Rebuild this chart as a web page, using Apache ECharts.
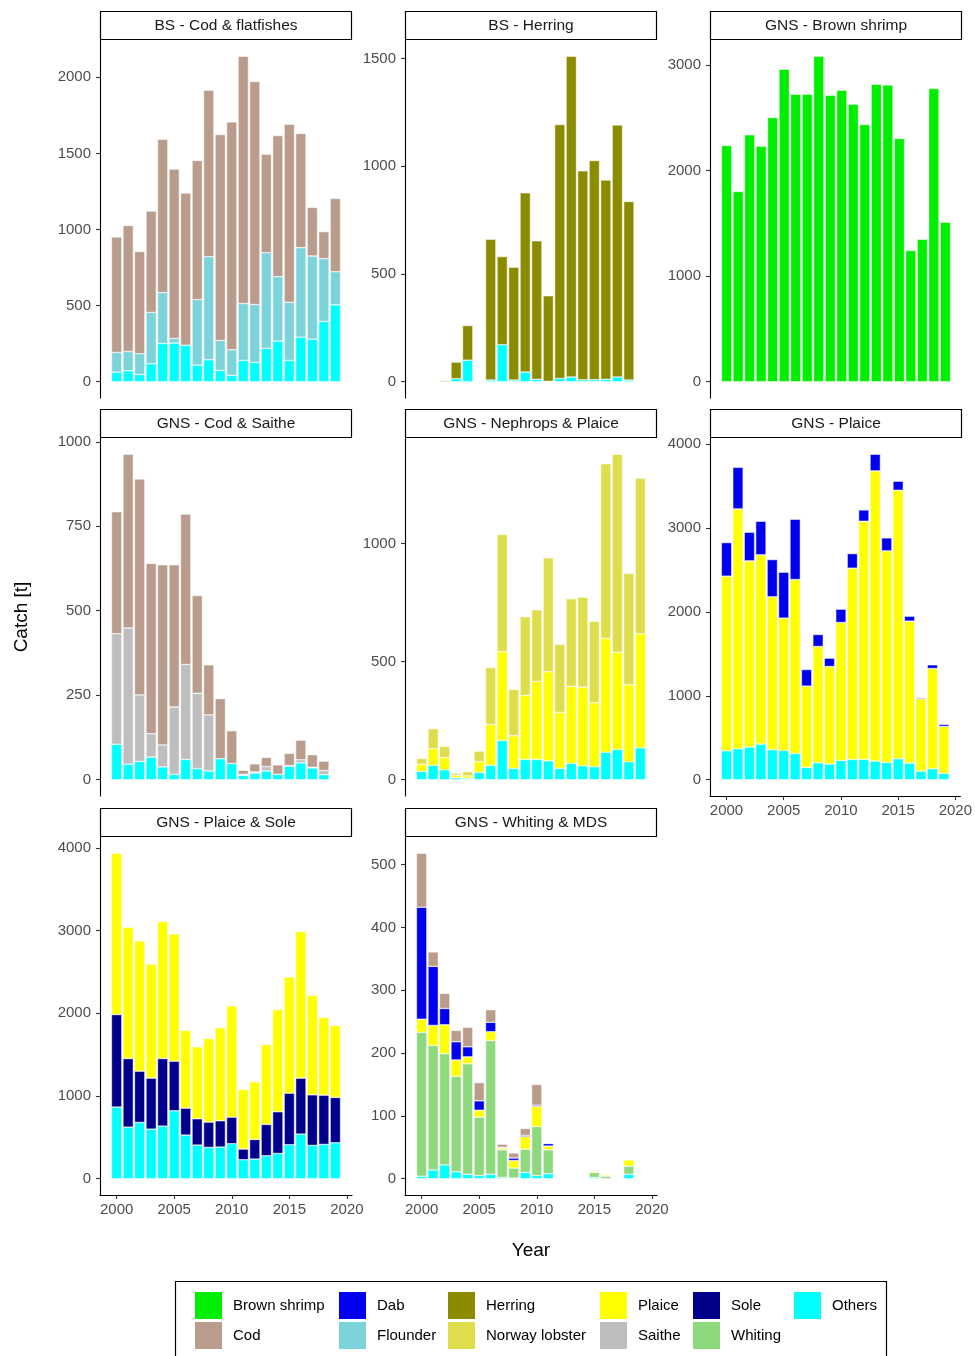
<!DOCTYPE html>
<html>
<head>
<meta charset="utf-8">
<script src="https://cdn.jsdelivr.net/npm/echarts@6/dist/echarts.min.js"></script>
<style>
  html, body { margin: 0; padding: 0; background: #ffffff; }
  #chart { width: 975px; height: 1356px; }
</style>
</head>
<body>
<div id="chart"></div>
<script>
// Catch per year and species group, in tonnes.
const years = [2000, 2001, 2002, 2003, 2004, 2005, 2006, 2007, 2008, 2009,
               2010, 2011, 2012, 2013, 2014, 2015, 2016, 2017, 2018, 2019];

// BS - Cod & flatfishes
const bsCodOthers   = [63, 72, 48, 118, 251, 254, 240, 109, 144, 74, 42, 140, 127, 219, 267, 140, 293, 280, 396, 505];
const bsCodFlounder = [129, 127, 136, 337, 335, 30, 0, 431, 678, 197, 168, 374, 380, 629, 424, 382, 588, 546, 413, 218];
const bsCodCod      = [759, 828, 671, 666, 1007, 1113, 999, 914, 1093, 1353, 1497, 1624, 1465, 647, 926, 1170, 750, 319, 177, 481];

// BS - Herring
const bsHerOthers  = [null, null, null, 14, 100, null, 8, 172, 8, 45, 11, 2, 15, 22, 9, 9, 11, 22, 8, null];
const bsHerHerring = [null, null, 5, 77, 161, null, 654, 409, 524, 832, 643, 397, 1179, 1489, 970, 1018, 925, 1170, 829, null];

// GNS - Brown shrimp
const gnsShrimp = [2239, 1803, 2340, 2232, 2504, 2962, 2725, 2725, 3085, 2716, 2763, 2630, 2438, 2820, 2813, 2305, 1244, 1351, 2779, 1512];

// GNS - Cod & Saithe
const gnsCsOthers = [105, 46, 54, 67, 38, 16, 60, 33, 26, 62, 48, 13, 20, 26, 16, 40, 50, 35, 15, 2];
const gnsCsSaithe = [327, 403, 197, 69, 65, 199, 281, 223, 166, 0, 0, 3, 3, 13, 0, 2, 9, 2, 12, 0];
const gnsCsCod    = [361, 514, 639, 504, 533, 421, 445, 289, 148, 178, 97, 12, 24, 27, 28, 36, 58, 37, 28, 2];

// GNS - Nephrops & Plaice
const gnsNpOthers  = [35, 61, 42, 8, 6, 31, 61, 166, 48, 86, 86, 80, 48, 69, 59, 55, 116, 128, 76, 135];
const gnsNpPlaice  = [30, 70, 52, 10, 10, 45, 173, 376, 138, 271, 330, 377, 237, 326, 333, 271, 482, 411, 326, 483];
const gnsNpLobster = [25, 85, 47, 9, 18, 45, 241, 496, 196, 333, 303, 482, 288, 371, 380, 344, 739, 838, 471, 658];

// GNS - Plaice
const gnsPlOthers = [345, 369, 389, 425, 357, 349, 313, 147, 202, 187, 230, 242, 242, 222, 206, 250, 198, 103, 131, 75];
const gnsPlPlaice = [2080, 2857, 2218, 2254, 1822, 1576, 2072, 968, 1385, 1162, 1643, 2278, 2837, 3457, 2520, 3198, 1691, 861, 1194, 560];
const gnsPlDab    = [400, 496, 341, 400, 444, 547, 718, 198, 143, 99, 159, 174, 135, 198, 155, 108, 59, 12, 44, 24];

// GNS - Plaice & Sole
const gnsPsOthers = [866, 624, 681, 600, 636, 822, 528, 407, 379, 383, 423, 230, 238, 278, 306, 411, 540, 403, 415, 435];
const gnsPsSole   = [1120, 830, 620, 617, 818, 600, 326, 318, 306, 318, 322, 129, 237, 379, 504, 624, 677, 612, 596, 548];
const gnsPsPlaice = [1950, 1587, 1575, 1381, 1656, 1539, 939, 870, 1011, 1124, 1346, 721, 697, 966, 1236, 1406, 1772, 1205, 939, 870];

// GNS - Whiting & MDS
const gnsWhOthers  = [4, 14, 22, 11, 7, 5, 7, 2, 1, 10, 5, 8, null, null, null, 2, null, null, 7, null];
const gnsWhWhiting = [229, 198, 177, 152, 176, 93, 213, 44, 16, 37, 78, 38, null, null, null, 8, 4, null, 13, null];
const gnsWhPlaice  = [21, 32, 46, 26, 11, 11, 14, 3, 12, 20, 32, 6, null, null, null, 2, 2, null, 10, null];
const gnsWhDab     = [178, 94, 26, 29, 16, 15, 15, 1, 4, 2, 2, 4, null, null, null, null, null, null, null, null];
const gnsWhCod     = [86, 23, 24, 18, 31, 29, 20, 5, 8, 11, 33, 1, null, null, null, 1, null, null, null, null];

// Axis tick labels
const bsCodTicks     = [0, 500, 1000, 1500, 2000];
const bsHerTicks     = [0, 500, 1000, 1500];
const gnsShrimpTicks = [0, 1000, 2000, 3000];
const gnsCsTicks     = [0, 250, 500, 750, 1000];
const gnsNpTicks     = [0, 500, 1000];
const gnsPlTicks     = [0, 1000, 2000, 3000, 4000];
const gnsPsTicks     = [0, 1000, 2000, 3000, 4000];
const gnsWhTicks     = [0, 100, 200, 300, 400, 500];
const yearTicks      = [2000, 2005, 2010, 2015, 2020];

// Legend layout: columns of species names
const legendColumns = [
  ['Brown shrimp', 'Cod'],
  ['Dab', 'Flounder'],
  ['Herring', 'Norway lobster'],
  ['Plaice', 'Saithe'],
  ['Sole', 'Whiting'],
  ['Others']
];

const speciesColor = {
  'Brown shrimp': '#00EE00',
  'Cod': '#B99C8B',
  'Dab': '#0000EE',
  'Flounder': '#7DD3DA',
  'Herring': '#8B8B00',
  'Norway lobster': '#DEDE4C',
  'Plaice': '#FFFF00',
  'Saithe': '#BEBEBE',
  'Sole': '#00008B',
  'Whiting': '#8ED97D',
  'Others': '#00FFFF'
};

// Facets, with layers listed from the bottom of the stack upwards
const panels = [
  { title: 'BS - Cod & flatfishes', col: 0, row: 0, ticks: bsCodTicks, xLabels: false,
    layers: [['Others', bsCodOthers], ['Flounder', bsCodFlounder], ['Cod', bsCodCod]] },
  { title: 'BS - Herring', col: 1, row: 0, ticks: bsHerTicks, xLabels: false,
    layers: [['Others', bsHerOthers], ['Herring', bsHerHerring]] },
  { title: 'GNS - Brown shrimp', col: 2, row: 0, ticks: gnsShrimpTicks, xLabels: false,
    layers: [['Brown shrimp', gnsShrimp]] },
  { title: 'GNS - Cod & Saithe', col: 0, row: 1, ticks: gnsCsTicks, xLabels: false,
    layers: [['Others', gnsCsOthers], ['Saithe', gnsCsSaithe], ['Cod', gnsCsCod]] },
  { title: 'GNS - Nephrops & Plaice', col: 1, row: 1, ticks: gnsNpTicks, xLabels: false,
    layers: [['Others', gnsNpOthers], ['Plaice', gnsNpPlaice], ['Norway lobster', gnsNpLobster]] },
  { title: 'GNS - Plaice', col: 2, row: 1, ticks: gnsPlTicks, xLabels: true,
    layers: [['Others', gnsPlOthers], ['Plaice', gnsPlPlaice], ['Dab', gnsPlDab]] },
  { title: 'GNS - Plaice & Sole', col: 0, row: 2, ticks: gnsPsTicks, xLabels: true,
    layers: [['Others', gnsPsOthers], ['Sole', gnsPsSole], ['Plaice', gnsPsPlaice]] },
  { title: 'GNS - Whiting & MDS', col: 1, row: 2, ticks: gnsWhTicks, xLabels: true,
    layers: [['Others', gnsWhOthers], ['Whiting', gnsWhWhiting], ['Plaice', gnsWhPlaice], ['Dab', gnsWhDab], ['Cod', gnsWhCod]] }
];

// Page geometry
const FONT = 'Liberation Sans, Arial, Helvetica, sans-serif';
const colLeft = [100, 405, 710];
const rowTop = [40, 438, 837];
const panelW = 252;
const panelH = 358;
const stripH = 29;

// x range: bars are 0.9 years wide, padded by 5% of their span on each side
const barFrac = 0.9;
const xLo = years[0] - barFrac / 2;
const xHi = years[years.length - 1] + barFrac / 2;
const xPad = (xHi - xLo) * 0.05;
const xMin = xLo - xPad;
const xMax = xHi + xPad;
const barPx = panelW / (xMax - xMin) * barFrac;

const plainNumber = v => String(v);

const grids = [], xAxes = [], yAxes = [], series = [], graphics = [];

panels.forEach((p, i) => {
  const left = colLeft[p.col];
  const top = rowTop[p.row];
  grids.push({ left: left, top: top, width: panelW, height: panelH, containLabel: false });

  // stacked totals set the y range (5% padding at both ends)
  let yTop = 0;
  years.forEach((_, k) => {
    let s = 0;
    p.layers.forEach(l => { s += l[1][k] || 0; });
    yTop = Math.max(yTop, s);
  });

  xAxes.push({
    type: 'value', gridIndex: i, min: xMin, max: xMax,
    splitLine: { show: false },
    axisLine: { show: p.xLabels, onZero: false, lineStyle: { color: '#000', width: 1.1 } },
    axisTick: { show: p.xLabels, length: 4, customValues: yearTicks, lineStyle: { color: '#333', width: 1.1 } },
    axisLabel: { show: p.xLabels, customValues: yearTicks, margin: 7, color: '#4D4D4D',
                 fontSize: 15, fontFamily: FONT, formatter: plainNumber }
  });

  yAxes.push({
    type: 'value', gridIndex: i, min: -0.05 * yTop, max: 1.05 * yTop,
    splitLine: { show: false },
    axisLine: { show: true, onZero: false, lineStyle: { color: '#000', width: 1.1 } },
    axisTick: { show: true, length: 4, customValues: p.ticks, lineStyle: { color: '#333', width: 1.1 } },
    axisLabel: { show: true, customValues: p.ticks, margin: 9, color: '#4D4D4D',
                 fontSize: 15, fontFamily: FONT, formatter: plainNumber }
  });

  p.layers.forEach(l => {
    const name = l[0];
    // each item is [catch, year]: the catch is the first numeric dimension, so it is the one stacked
    series.push({
      type: 'bar', name: name, xAxisIndex: i, yAxisIndex: i, stack: 'facet' + i,
      barWidth: barPx, silent: true,
      encode: { x: 1, y: 0 },
      itemStyle: { color: speciesColor[name], borderColor: '#ffffff', borderWidth: 0.5 },
      data: years.map((y, k) => {
        const v = l[1][k];
        return [(v === null || v === 0) ? '-' : v, y];
      })
    });
  });

  // facet strip
  graphics.push({
    type: 'rect', silent: true,
    shape: { x: left + 0.5, y: top - stripH + 0.5, width: panelW - 1, height: stripH - 1 },
    style: { fill: '#ffffff', stroke: '#000000', lineWidth: 1.2 }
  });
  graphics.push({
    type: 'text', silent: true, x: left + panelW / 2, y: top - stripH / 2 + 0.5,
    style: { text: p.title, fill: '#1A1A1A', font: '15.5px ' + FONT, textAlign: 'center', textVerticalAlign: 'middle' }
  });
});

// axis titles
graphics.push({
  type: 'text', silent: true, x: 22, y: 617, rotation: Math.PI / 2,
  style: { text: 'Catch [t]', fill: '#000', font: '19px ' + FONT, textAlign: 'center', textVerticalAlign: 'middle' }
});
graphics.push({
  type: 'text', silent: true, x: 531, y: 1251,
  style: { text: 'Year', fill: '#000', font: '19px ' + FONT, textAlign: 'center', textVerticalAlign: 'middle' }
});

// legend frame
graphics.push({
  type: 'rect', silent: true,
  shape: { x: 175.5, y: 1281.5, width: 711, height: 100 },
  style: { fill: 'none', stroke: '#000000', lineWidth: 1.2 }
});

const legendLeft = [195, 339, 448, 600, 693, 794];
const legends = legendColumns.map((names, i) => ({
  data: names, orient: 'vertical', left: legendLeft[i], top: 1292,
  padding: 0, itemWidth: 27, itemHeight: 27, itemGap: 3, icon: 'rect',
  selectedMode: false,
  itemStyle: { borderWidth: 0 },
  textStyle: { fontSize: 15, color: '#000', fontFamily: FONT, padding: [0, 0, 0, 6] }
}));

const chart = echarts.init(document.getElementById('chart'), null, { renderer: 'canvas' });
chart.setOption({
  animation: false,
  backgroundColor: '#ffffff',
  textStyle: { fontFamily: FONT },
  grid: grids,
  xAxis: xAxes,
  yAxis: yAxes,
  legend: legends,
  series: series,
  graphic: graphics
});
</script>
</body>
</html>
